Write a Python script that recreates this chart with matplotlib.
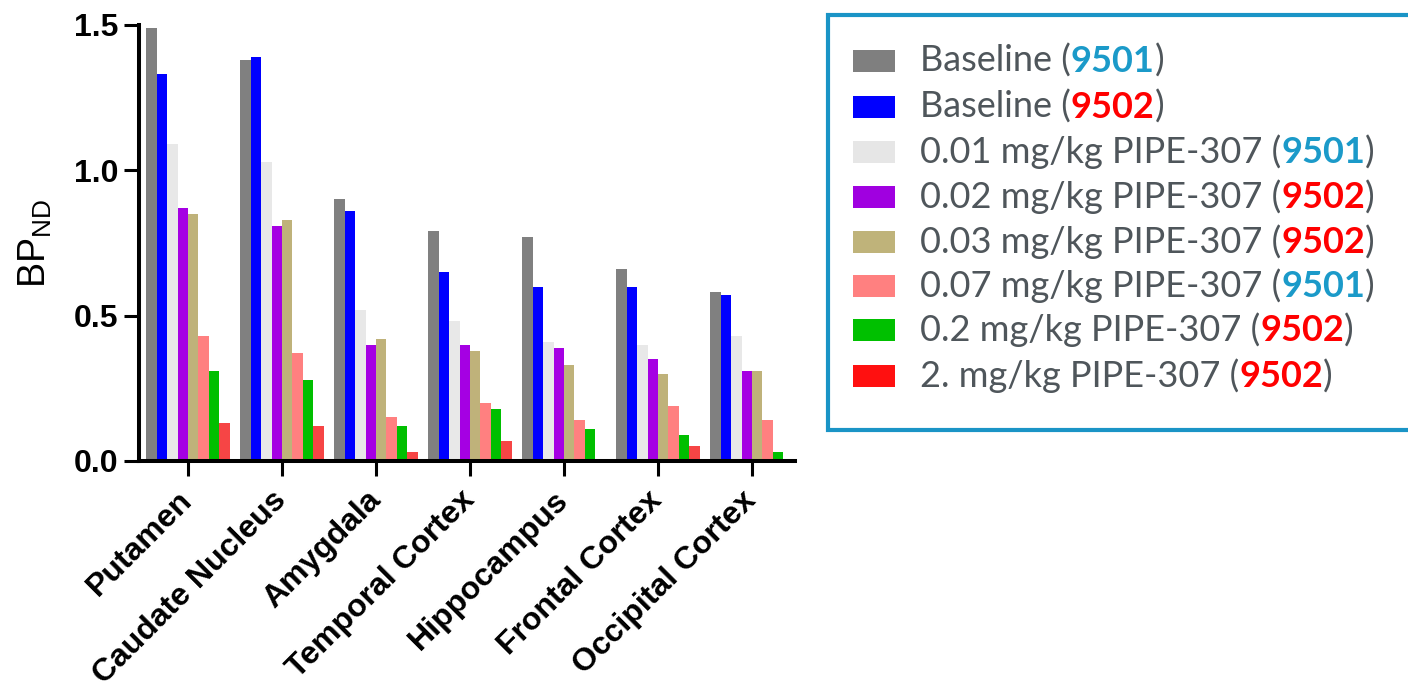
import numpy as np
import matplotlib
matplotlib.use("Agg")
import matplotlib.pyplot as plt
from matplotlib.patches import Rectangle
from matplotlib.offsetbox import TextArea, HPacker, AnnotationBbox

# Brain regions on the x axis
regions = ["Putamen", "Caudate Nucleus", "Amygdala", "Temporal Cortex",
           "Hippocampus", "Frontal Cortex", "Occipital Cortex"]

# BP_ND per condition (one value per region)
baseline_9501 = [1.49, 1.38, 0.90, 0.79, 0.77, 0.66, 0.58]
baseline_9502 = [1.33, 1.39, 0.86, 0.65, 0.60, 0.60, 0.57]
dose_001_9501 = [1.09, 1.03, 0.52, 0.48, 0.41, 0.40, 0.43]
dose_002_9502 = [0.87, 0.81, 0.40, 0.40, 0.39, 0.35, 0.31]
dose_003_9502 = [0.85, 0.83, 0.42, 0.38, 0.33, 0.30, 0.31]
dose_007_9501 = [0.43, 0.37, 0.15, 0.20, 0.14, 0.19, 0.14]
dose_02_9502 = [0.31, 0.28, 0.12, 0.18, 0.11, 0.09, 0.03]
dose_2_9502 = [0.13, 0.12, 0.03, 0.07, 0.00, 0.05, 0.00]

series = [baseline_9501, baseline_9502, dose_001_9501, dose_002_9502,
          dose_003_9502, dose_007_9501, dose_02_9502, dose_2_9502]

# legend text: (prefix, subject id)
label_prefix = ["Baseline (", "Baseline (", "0.01 mg/kg PIPE-307 (",
                "0.02 mg/kg PIPE-307 (", "0.03 mg/kg PIPE-307 (",
                "0.07 mg/kg PIPE-307 (", "0.2 mg/kg PIPE-307 (",
                "2. mg/kg PIPE-307 ("]
label_subject = ["9501", "9502", "9501", "9502", "9502", "9501", "9502", "9502"]

y_ticks = [0.0, 0.5, 1.0, 1.5]
y_tick_labels = ["0.0", "0.5", "1.0", "1.5"]

bar_colors = ["#808080", "#0000FF", "#E8E8E8", "#A500E3",
              "#BFB27A", "#FF8080", "#00BF00", "#F64545"]
legend_colors = ["#7F7F7F", "#0000FF", "#E6E6E6", "#A000E0",
                 "#BFB37A", "#FF8080", "#00C000", "#FF1010"]
subject_colors = {"9501": "#1B9AC9", "9502": "#FF0000"}

W, H = 1408, 695
fig = plt.figure(figsize=(W / 100, H / 100), dpi=100)
ax = fig.add_axes([139 / W, 1 - 461 / H, (795 - 139) / W, (461 - 25) / H])

x = np.arange(len(regions))
n = len(series)
bw = 0.111
for k, (vals, col) in enumerate(zip(series, bar_colors)):
    ax.bar(x + (k - (n - 1) / 2) * bw, vals, width=bw, color=col,
           edgecolor="none", linewidth=0)

ax.set_xlim(-0.521, 6.457)
ax.set_ylim(0, 1.5)
ax.set_yticks(y_ticks)
ax.set_yticklabels(y_tick_labels, fontfamily="Liberation Sans",
                   fontweight="bold", fontsize=23)
ax.set_xticks(x)
ax.set_xticklabels(regions, rotation=45, ha="right", va="center",
                   rotation_mode="anchor", fontfamily="Liberation Sans",
                   fontweight="bold", fontsize=23)
ax.tick_params(axis="both", length=11, width=2.2, color="black")
ax.tick_params(axis="y", pad=4)
ax.tick_params(axis="x", pad=14)
for s in ["top", "right"]:
    ax.spines[s].set_visible(False)
for s in ["left", "bottom"]:
    ax.spines[s].set_linewidth(2.9)
ax.set_ylabel(r"BP$_{\mathregular{ND}}$", fontfamily="Liberation Sans",
              fontsize=27, labelpad=14)

# legend frame
fig.add_artist(Rectangle((828 / W, 1 - 430 / H), (W - 828 + 20) / W,
                         (430 - 15) / H, transform=fig.transFigure,
                         facecolor="white", edgecolor="#1A94C6",
                         linewidth=3, clip_on=True))

row_y = [61, 107, 152, 197, 242, 286, 330, 376]
legend_fs = 26
text_kw = dict(fontfamily="Lato", fontsize=legend_fs, color="#4F565B")
for i in range(n):
    yc = row_y[i]
    fig.add_artist(Rectangle((853 / W, 1 - (yc + 11) / H), 42 / W, 22 / H,
                             transform=fig.transFigure,
                             facecolor=legend_colors[i], edgecolor="none"))
    parts = [
        TextArea(label_prefix[i], textprops=text_kw),
        TextArea(label_subject[i], textprops=dict(
            fontfamily="Lato", fontsize=legend_fs, fontweight="bold",
            color=subject_colors[label_subject[i]])),
        TextArea(")", textprops=text_kw),
    ]
    row = HPacker(children=parts, align="baseline", pad=0, sep=0)
    ab = AnnotationBbox(row, (920 / W, 1 - yc / H), xycoords="figure fraction",
                        box_alignment=(0, 0.5), frameon=False, pad=0)
    fig.add_artist(ab)

fig.savefig("out.png", dpi=100)
